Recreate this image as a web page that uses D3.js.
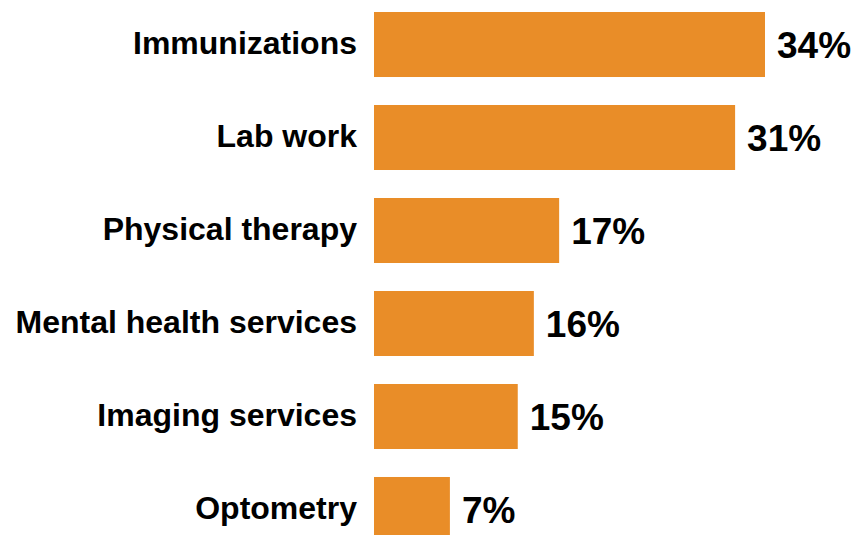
<!DOCTYPE html>
<html>
<head>
<meta charset="utf-8">
<script src="https://d3js.org/d3.v7.min.js"></script>
<style>
  body { margin: 0; background: #fff; }
  svg { display: block; }
</style>
</head>
<body>
<svg width="857" height="535"></svg>
<script>
// categories, top to bottom
var services = ["Immunizations", "Lab work", "Physical therapy", "Mental health services", "Imaging services", "Optometry"];
// bar lengths as drawn (percent)
var shares = [34, 31.4, 16.1, 13.9, 12.5, 6.6];
// value labels as printed
var shareLabels = ["34%", "31%", "17%", "16%", "15%", "7%"];

var svg = d3.select("svg");
var barColor = "#e98d28";

// x scale: 0 at the bar start
var x = d3.scaleLinear()
    .domain([0, 34])
    .range([374, 765]);

// rows
var y = d3.scaleBand()
    .domain(services)
    .range([12, 542])
    .paddingInner(0.301)
    .paddingOuter(0);

var rows = svg.append("g")
    .selectAll("g")
    .data(services)
    .enter()
    .append("g");

rows.append("rect")
    .attr("x", x(0))
    .attr("y", function(d) { return y(d); })
    .attr("width", function(d, i) { return x(shares[i]) - x(0); })
    .attr("height", y.bandwidth())
    .attr("fill", barColor);

// category labels on the left
rows.append("text")
    .attr("x", 357)
    .attr("y", function(d) { return y(d) + y.bandwidth() / 2 + 9.5; })
    .attr("text-anchor", "end")
    .attr("font-family", "'Liberation Sans', Arial, Helvetica, sans-serif")
    .attr("font-weight", "bold")
    .attr("font-size", 32)
    .attr("fill", "#000")
    .text(function(d) { return d; });

// value labels after the bar
rows.append("text")
    .attr("x", function(d, i) { return x(shares[i]) + 12; })
    .attr("y", function(d) { return y(d) + y.bandwidth() / 2 + 13.5; })
    .attr("text-anchor", "start")
    .attr("font-family", "'Liberation Sans', Arial, Helvetica, sans-serif")
    .attr("font-weight", "bold")
    .attr("font-size", 37)
    .attr("fill", "#000")
    .text(function(d, i) { return shareLabels[i]; });
</script>
</body>
</html>
